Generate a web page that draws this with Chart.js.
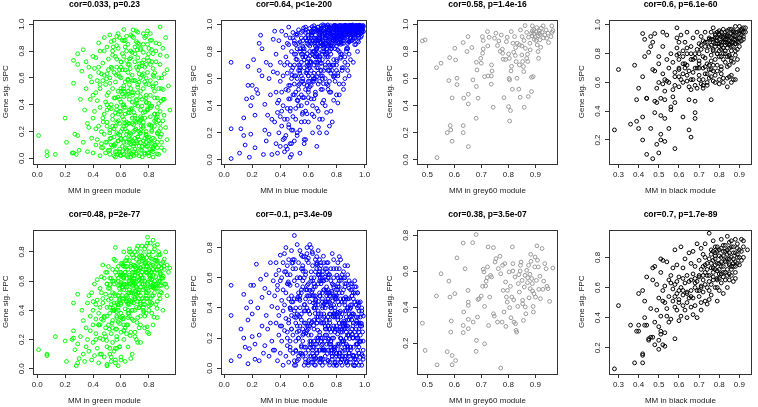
<!DOCTYPE html>
<html lang="en">
<head>
<meta charset="UTF-8">
<title>Module membership vs. gene significance</title>
<script src="https://cdn.jsdelivr.net/npm/chart.js"></script>
<style>
    body {
        margin: 0;
        width: 758px;
        height: 407px;
        overflow: hidden;
        background: #fff;
        position: relative;
    }
    canvas {
        position: absolute;
    }
</style>
</head>
<body>
<script>
    // ---- data ----

    // green module: membership (x) shared by both rows
    const greenMM = [
        .01,.07,.07,.13,.20,.21,.25,.26,.26,.26,.28,.29,.29,.27,.29,.30,
        .31,.32,.33,.33,.34,.35,.35,.36,.36,.37,.37,.38,.38,.39,.39,.40,.40,.40,.41,.41,.42,.42,.42,.43,.43,.43,.44,.44,.44,.45,.45,.45,.45,.46,.46,
        .47,.47,.48,.48,.48,.49,.49,.49,.50,.50,.50,.50,.51,.51,.51,.52,.52,.52,.52,.53,.53,.53,.54,.54,.54,.54,.55,.55,.55,.55,.56,.56,.56,.56,.57,.57,.57,.57,.58,.58,.58,.58,.59,.59,.59,.59,.60,.60,.60,.60,.47,.50,.53,.56,.59,
        .61,.61,.61,.62,.62,.62,.62,.63,.63,.63,.64,.64,.64,.64,.65,.65,.65,.66,.66,.66,.66,.67,.67,.67,.68,.68,.68,.68,.69,.69,.69,.70,.70,.70,.70,.71,.71,.71,.72,.72,.72,.72,.73,.73,.73,.74,.74,.74,.74,.75,.75,.75,.62,.65,.68,.71,.74,.63,.67,.70,
        .76,.76,.76,.77,.77,.77,.78,.78,.78,.78,.79,.79,.79,.80,.80,.80,.80,.81,.81,.81,.82,.82,.82,.83,.83,.83,.84,.84,.84,.85,.85,.85,.86,.86,.87,.87,.88,.88,.88,.89,.89,.90,.90,.91,.91,.92,.92,.93,.93,.94,.95,.79,.83,.86,.81,
        .52,.55,.58,.60,.63,.65,.67,.69,.71,.73,.75,.77,.79,.81,.83,.85,.87,.89,.54,.57,.61,.64,.66,.68,.70,.72,.74,.76,.78,.80,.82,.84,.66,.70,.74,.78,.62,.86,.88,.58,
        .45,.47,.49,.51,.53,.55,.57,.59,.61,.63,.65,.67,.69,.71,.73,.75,.77,.79,.81,.83,
        .46,.48,.50,.52,.54,.56,.58,.60,.62,.64,.66,.68,.70,.72,.74,.76,.78,.80,.82,.84,
        .55,.57,.59,.61,.63,.65,.67,.69,.71,.73,.75,.77,.79,.81,.83,.85,.87,.89,.91,.60,
        .56,.58,.60,.62,.64,.66,.68,.70,.72,.74,.76,.78,.80,.82,.84,.86,.88,.90,.50,.53,
        .57,.60,.63,.66,.69,.72,.75,.78,.81,.84,.87,.58,.61,.64,.67,.70,.73,.76,.79,.82,
        .40,.42,.44,.46,.48,.50,.52,.54,.56,.58,.60,.62,.64,.66,.68,.70,.72,.74,.76,.78,
        .60,.61,.62,.63,.64,.65,.66,.67,.68,.69,.70,.71,.72,.73,.74,.75,.76,.77,.78,.79,
        .80,.81,.82,.83,.84,.85,.86,.87,.88,.89,.59,.62,.65,.68,.71,.74,.77,.80,.83,.86,
        .553,.578,.603,.627,.648,.672,.693,.717,.738,.761,.783,.806,.829,.851,.874,.517,.536,.687,.713,.744,
        .567,.591,.614,.638,.661,.683,.706,.729,.752,.773,.797,.818,.841,.863,.887,.908,.621,.657,.733,.779,
        .473,.497,.521,.544,.569,.594,.618,.643,.666,.691,.714,.739,.763,.787,.812,.836,.858,.883,.903,.927
    ];
    const greenSPC = [
        .17,.05,.02,.03,.30,.12,.04,.04,.56,.73,.03,.17,.70,.18,.78,.06,
        .44,.65,.81,.12,.36,.72,.52,.26,.05,.68,.23,.61,.44,.15,.57,.30,.04,.76,.67,.35,.10,.75,.49,.58,.14,.43,.86,.24,.68,.02,.38,.80,.55,.20,.63,
        .08,.71,.33,.90,.18,.55,.04,.42,.63,.12,.27,.83,.06,.49,.74,.21,.60,.92,.03,.37,.68,.15,.52,.80,.09,.29,.45,.02,.64,.88,.24,.57,.11,.76,.39,.05,.91,.68,.18,.50,.33,.82,.07,.61,.26,.44,.15,.72,.02,.35,.58,.47,.87,.01,.66,
        .31,.78,.05,.96,.54,.12,.40,.66,.22,.88,.02,.47,.73,.18,.59,.34,.85,.08,.44,.70,.26,.92,.14,.52,.37,.79,.03,.62,.20,.49,.90,.11,.58,.83,.30,.68,.04,.41,.16,.75,.55,.94,.27,.63,.09,.36,.81,.50,.19,.71,.06,.44,.24,.48,.13,.87,.60,.38,.01,.28,
        .52,.13,.85,.30,.68,.04,.91,.42,.20,.60,.75,.09,.36,.55,.16,.82,.02,.47,.70,.25,.88,.11,.39,.62,.05,.78,.33,.50,.14,.72,.27,.86,.45,.08,.60,.20,.98,.35,.70,.12,.52,.28,.82,.44,.06,.90,.23,.66,.14,.54,.36,.95,.01,.31,.93,
        .06,.10,.03,.14,.08,.01,.11,.05,.13,.02,.09,.15,.04,.12,.07,.10,.03,.18,.24,.19,.22,.27,.17,.26,.21,.16,.29,.23,.18,.25,.20,.28,.34,.40,.31,.45,.50,.38,.26,.13,
        .52,.30,.12,.66,.40,.22,.84,.05,.48,.33,.70,.18,.58,.27,.85,.39,.10,.64,.31,.54,
        .08,.62,.36,.19,.77,.45,.28,.60,.03,.91,.14,.42,.07,.66,.21,.93,.47,.13,.72,.24,
        .16,.74,.35,.09,.57,.26,.80,.11,.44,.20,.62,.03,.37,.88,.15,.56,.41,.08,.63,.50,
        .34,.13,.68,.46,.25,.05,.58,.32,.86,.12,.24,.70,.41,.06,.33,.19,.77,.44,.24,.10,
        .27,.52,.15,.36,.02,.49,.30,.17,.58,.45,.28,.93,.88,.80,.75,.72,.68,.79,.85,.81,
        .47,.22,.64,.11,.80,.40,.56,.32,.05,.63,.20,.38,.12,.55,.30,.15,.39,.06,.34,.09,
        .42,.66,.29,.83,.07,.50,.19,.37,.91,.25,.78,.03,.53,.14,.46,.69,.27,.57,.12,.36,
        .04,.39,.21,.67,.10,.80,.33,.52,.16,.60,.90,.76,.64,.49,.95,.82,.90,.73,.08,.12,
        .093,.457,.717,.263,.583,.037,.341,.809,.187,.631,.413,.071,.529,.297,.853,.379,.671,.957,.117,.243,
        .621,.173,.397,.053,.741,.471,.219,.567,.011,.347,.779,.241,.637,.183,.427,.321,.877,.119,.707,.553,
        .271,.593,.147,.831,.363,.023,.519,.201,.669,.091,.431,.281,.733,.157,.377,.611,.033,.223,.513,.761
    ];
    const greenFPC = [
        .13,.10,.09,.22,.19,.05,.20,.21,.45,.26,.02,.17,.04,.13,.51,.07,
        .22,.40,.10,.33,.05,.28,.15,.45,.20,.50,.12,.36,.26,.52,.06,.40,.18,.30,.58,.09,.34,.44,.24,.61,.14,.47,.30,.04,.38,.55,.21,.10,.42,.34,.63,
        .45,.20,.62,.08,.35,.51,.28,.66,.15,.42,.58,.03,.30,.70,.47,.10,.55,.38,.62,.24,.05,.44,.68,.33,.52,.18,.75,.40,.12,.60,.27,.50,.83,.06,.36,.64,.45,.22,.57,.02,.70,.40,.15,.52,.31,.66,.08,.45,.59,.25,.71,.36,.48,.14,.55,
        .55,.34,.72,.48,.62,.20,.80,.41,.66,.05,.58,.30,.74,.50,.45,.68,.15,.60,.82,.36,.54,.70,.25,.46,.63,.78,.40,.10,.57,.71,.33,.64,.49,.80,.22,.59,.42,.75,.67,.35,.52,.84,.61,.28,.73,.44,.56,.69,.18,.62,.77,.48,.58,.40,.66,.51,.76,.64,.07,.53,
        .62,.70,.42,.78,.55,.36,.66,.84,.48,.73,.59,.90,.52,.67,.80,.40,.64,.71,.56,.86,.45,.61,.75,.50,.68,.30,.82,.58,.66,.44,.74,.63,.85,.55,.70,.60,.48,.78,.65,.57,.72,.62,.40,.75,.68,.58,.80,.50,.71,.66,.69,.25,.88,.35,.46,
        .50,.45,.60,.58,.66,.52,.70,.62,.56,.68,.74,.60,.70,.64,.58,.76,.62,.69,.40,.35,.48,.56,.44,.60,.66,.52,.64,.58,.50,.72,.61,.55,.47,.70,.80,.66,.63,.73,.57,.42,
        .30,.48,.22,.55,.62,.40,.68,.15,.56,.74,.35,.60,.45,.78,.52,.66,.82,.48,.62,.71,
        .10,.36,.58,.42,.28,.66,.50,.72,.30,.46,.80,.57,.25,.63,.69,.44,.55,.78,.38,.60,
        .58,.20,.47,.64,.70,.38,.52,.76,.66,.42,.58,.72,.86,.48,.68,.55,.80,.62,.58,.06,
        .74,.62,.35,.54,.48,.64,.40,.70,.60,.50,.76,.66,.43,.56,.84,.68,.60,.73,.02,.08,
        .14,.66,.56,.74,.60,.46,.84,.38,.64,.52,.70,.44,.36,.62,.58,.48,.54,.75,.66,.57,
        .46,.20,.30,.52,.24,.66,.14,.60,.04,.32,.44,.70,.24,.52,.34,.58,.18,.64,.40,.52,
        .38,.50,.62,.28,.70,.44,.58,.80,.52,.66,.40,.56,.72,.48,.36,.62,.54,.44,.70,.58,
        .68,.76,.50,.64,.70,.58,.46,.78,.66,.52,.48,.26,.30,.46,.20,.30,.28,.24,.80,.74,
        .513,.437,.633,.577,.489,.713,.617,.547,.691,.463,.759,.613,.557,.677,.503,.271,.313,.587,.821,.641,
        .391,.573,.707,.461,.627,.533,.687,.417,.601,.727,.531,.661,.743,.583,.649,.701,.263,.381,.767,.679,
        .331,.193,.577,.413,.271,.643,.343,.761,.227,.493,.317,.453,.389,.287,.437,.353,.413,.527,.633,.557
    ];

    // blue module: membership (x) shared by both rows
    const blueMM = [
        .05,.05,.05,.11,.12,.14,.14,.15,.16,.17,.17,.18,.19,.19,.20,.20,.21,.22,.22,.23,.24,.25,.25,.26,.27,.27,.28,.29,.29,.30,.30,.31,.32,.32,.33,.33,.34,.34,.35,.35,
        .36,.36,.37,.37,.37,.38,.38,.38,.39,.39,.39,.40,.40,.40,.40,.41,.41,.41,.42,.42,.42,.42,.43,.43,.43,.44,.44,.44,.44,.45,.45,.45,.45,.46,.46,.46,.46,.47,.47,.47,.47,.48,.48,.48,.48,.49,.49,.49,.49,.50,.50,.50,.50,.38,.41,.44,.47,.50,.43,.46,
        .51,.51,.51,.52,.52,.52,.53,.53,.53,.54,.54,.54,.55,.55,.55,.56,.56,.56,.57,.57,.57,.58,.58,.58,.59,.59,.59,.60,.60,.60,.61,.61,.61,.62,.62,.62,.63,.63,.63,.64,.64,.64,.65,.65,.65,.66,.66,.66,.67,.67,.67,.68,.68,.68,.69,.69,.69,.70,.70,.70,.52,.55,.58,.61,.64,.67,.70,.53,.56,.59,.62,.65,.68,.54,.57,.60,.63,.66,.69,.60,
        .71,.71,.72,.72,.73,.73,.74,.74,.75,.75,.76,.76,.77,.77,.78,.78,.79,.79,.80,.80,
        .81,.81,.82,.82,.83,.83,.84,.84,.85,.85,.86,.86,.87,.87,.88,.88,.89,.89,.90,.90,
        .91,.91,.92,.92,.93,.93,.94,.94,.95,.95,.96,.96,.97,.97,.98,.98,.93,.95,.97,.99,
        .70,.72,.73,.74,.75,.76,.77,.78,.79,.80,.81,.82,.83,.84,.85,.86,.87,.88,.89,.90,
        .74,.76,.78,.80,.82,.84,.86,.88,.90,.92,.94,.96,.75,.79,.83,.87,.91,.95,.81,.85,
        .70,.73,.77,.80,.83,.86,.89,.92,.95,.98,.71,.74,.78,.81,.84,.87,.90,.93,.96,.99,
        .50,.52,.54,.56,.58,.60,.62,.64,.66,.68,.70,.72,.74,.76,.78,.51,.53,.55,.57,.59,.61,.63,.65,.67,.69,.71,.73,.75,.77,.79,.55,.60,.65,.70,.75,.58,.63,.68,.73,.78,
        .60,.62,.64,.66,.68,.70,.72,.74,.76,.78,.80,.82,.84,.86,.88,.90,.92,.94,.96,.98,
        .61,.63,.65,.67,.69,.71,.73,.75,.77,.79,.81,.83,.85,.87,.89,.91,.93,.95,.97,.99,
        .65,.67,.69,.71,.73,.75,.77,.79,.81,.83,.85,.87,.89,.91,.93,.95,.97,.66,.70,.74,
        .78,.80,.82,.84,.86,.88,.90,.92,.94,.96,.76,.79,.82,.85,.88,.91,.94,.97,.83,.87,
        .55,.57,.59,.61,.63,.65,.67,.69,.71,.73,.75,.77,.79,.81,.83,.85,.56,.60,.64,.68,
        .45,.47,.49,.51,.53,.55,.57,.59,.61,.63,.65,.67,.69,.71,.73,.75,.48,.52,.58,.64,
        .45,.46,.47,.48,.49,.50,.51,.52,.53,.54,.55,.56,.57,.58,.59,.60,.62,.64,.66,.68,
        .70,.72,.74,.76,.78,.80,.82,.84,.86,.88,.90,.92,.94,.96,.71,.75,.79,.83,.87,.91,
        .52,.54,.56,.58,.60,.62,.64,.66,.68,.70,.72,.74,.76,.78,.80,.82,.84,.86,.88,.90,
        .90,.91,.92,.93,.94,.95,.96,.97,.98,.99,.84,.85,.86,.87,.88,.89,.80,.81,.82,.83,
        .70,.72,.74,.76,.78,.80,.82,.84,.86,.88,.73,.77,.81,.85,.89,.92,.95,.68,.66,.64,
        .50,.54,.58,.62,.66,.70,.74,.78,.82,.86,.90,.94,.56,.60,.64,.68,.72,.76,.80,.84,
        .613,.637,.652,.688,.701,.726,.748,.763,.789,.804,.827,.843,.866,.881,.907,.923,.946,.961,.978,.593,
        .624,.643,.667,.679,.713,.734,.757,.771,.796,.813,.834,.852,.873,.894,.912,.934,.953,.969,.986,.607,
        .583,.617,.648,.671,.693,.717,.741,.767,.782,.809,.831,.857,.877,.889,.917,.938,.957,.973,.991,.661,
        .457,.483,.512,.537,.563,.589,.611,.636,.659,.684,.707,.733,.758,.779,.803,.473,.526,.574,.627,.672,
        .703,.719,.738,.753,.772,.787,.808,.823,.838,.861,.878,.897,.915,.929,.944,.963,.981,.667,.687,.652,
        .511,.541,.566,.597,.627,.653,.682,.706,.729,.751,.776,.801,.826,.849,.871,.893,.917,.941,.533,.557
    ];
    const blueSPC = [
        .72,.23,.01,.05,.23,.18,.31,.11,.45,.69,.55,.02,.19,.40,.55,.46,.74,.33,.09,.52,.49,.66,.86,.92,.82,.62,.04,.22,.41,.72,.14,.33,.60,.19,.48,.70,.04,.30,.89,.65,
        .95,.28,.50,.12,.78,.64,.35,.05,.20,.88,.44,.58,.10,.72,.32,.95,.25,.50,.62,.15,.83,.40,.70,.06,.30,.92,.52,.18,.76,.38,.64,.08,.86,.26,.55,.98,.45,.12,.70,.36,.90,.60,.22,.80,.04,.48,.94,.32,.68,.14,.78,.56,.88,.42,.36,.10,.02,.62,.16,.24,
        .62,.85,.30,.74,.18,.93,.55,.96,.40,.80,.66,.22,.90,.48,.72,.60,.95,.35,.82,.12,.68,.76,.52,.98,.88,.42,.64,.92,.70,.28,.84,.58,.97,.66,.90,.45,.78,.94,.20,.86,.60,.99,.72,.50,.92,.82,.96,.38,.68,.88,.56,.94,.74,.30,.86,.62,.97,.78,.52,.92,.44,.58,.36,.72,.80,.64,.85,.70,.78,.86,.55,.88,.90,.05,.15,.46,.88,.76,.66,.62,
        .95,.82,.90,.68,.98,.76,.88,.55,.93,.80,.97,.64,.86,.92,.99,.74,.90,.96,.84,.98,
        .91,.97,.86,.99,.94,.78,.96,.90,.99,.88,.93,.97,.82,.98,.95,.91,.99,.87,.96,.93,
        .97,.92,.99,.95,.98,.90,.96,.99,.94,.98,.97,.92,.99,.96,.98,.95,.85,.88,.93,.98,
        .42,.60,.35,.72,.25,.50,.66,.44,.58,.70,.62,.48,.75,.68,.56,.72,.80,.66,.78,.74,
        .96,.91,.94,.88,.96,.93,.98,.95,.99,.97,.95,.99,.87,.99,.97,.94,.95,.97,.92,.96,
        .88,.94,.97,.93,.89,.99,.92,.94,.99,.97,.99,.84,.90,.86,.98,.96,.90,.96,.95,.99,
        .70,.82,.64,.88,.76,.58,.92,.80,.68,.84,.74,.86,.66,.78,.70,.50,.66,.78,.56,.72,.88,.62,.84,.76,.66,.80,.90,.70,.84,.62,.40,.52,.48,.60,.66,.94,.58,.90,.82,.88,
        .90,.86,.97,.83,.93,.88,.99,.91,.85,.97,.92,.89,.95,.99,.93,.97,.90,.96,.99,.94,
        .80,.94,.76,.98,.87,.93,.82,.96,.90,.86,.98,.94,.90,.96,.92,.99,.95,.92,.97,.99,
        .95,.90,.99,.85,.92,.98,.94,.99,.90,.97,.86,.99,.97,.94,.99,.96,.98,.72,.80,.94,
        .98,.96,.99,.91,.97,.86,.99,.93,.97,.90,.93,.89,.95,.97,.99,.88,.99,.95,.99,.92,
        .62,.74,.55,.68,.80,.60,.72,.84,.66,.78,.58,.70,.82,.64,.76,.68,.84,.50,.64,.58,
        .30,.45,.22,.38,.52,.28,.46,.34,.54,.40,.48,.36,.52,.44,.56,.50,.12,.20,.15,.32,
        .72,.85,.55,.66,.90,.48,.78,.60,.86,.70,.94,.58,.80,.90,.66,.75,.95,.70,.86,.92,
        .92,.86,.95,.99,.90,.96,.87,.93,.98,.95,.90,.97,.93,.99,.97,.88,.94,.90,.96,.93,
        .92,.82,.76,.96,.85,.72,.90,.78,.96,.62,.78,.99,.82,.88,.74,.80,.86,.76,.82,.88,
        .94,.99,.96,.92,.99,.97,.94,.99,.97,.95,.99,.96,.92,.99,.97,.95,.99,.94,.97,.92,
        .30,.40,.52,.36,.62,.48,.56,.66,.60,.70,.20,.28,.42,.52,.62,.72,.80,.20,.10,.45,
        .86,.68,.90,.94,.82,.96,.88,.98,.92,.97,.99,.98,.46,.62,.58,.76,.70,.84,.66,.78,
        .873,.947,.812,.968,.905,.851,.983,.926,.874,.958,.991,.902,.944,.879,.972,.935,.989,.957,.917,.783,
        .921,.768,.954,.887,.938,.976,.842,.963,.985,.917,.869,.977,.953,.993,.918,.962,.939,.981,.967,.694,
        .643,.726,.864,.791,.713,.834,.759,.823,.917,.811,.853,.897,.828,.873,.889,.853,.871,.905,.946,.613,
        .513,.627,.743,.561,.829,.697,.767,.597,.881,.713,.563,.793,.689,.613,.727,.381,.437,.283,.337,.241,
        .997,.934,.996,.971,.943,.993,.964,.981,.936,.994,.968,.982,.996,.973,.958,.994,.988,.979,.941,.967,
        .927,.871,.973,.943,.983,.897,.951,.872,.913,.953,.886,.931,.962,.941,.987,.953,.967,.973,.461,.337
    ];
    const blueFPC = [
        .55,.35,.05,.08,.26,.20,.49,.14,.40,.03,.32,.13,.55,.44,.36,.21,.55,.06,.16,.69,.40,.22,.05,.59,.28,.47,.10,.53,.15,.35,.62,.26,.08,.50,.30,.70,.18,.41,.58,.12,
        .48,.12,.62,.30,.70,.05,.40,.55,.22,.65,.35,.10,.58,.28,.75,.45,.18,.60,.02,.38,.52,.70,.25,.42,.64,.08,.50,.33,.80,.20,.56,.68,.15,.46,.72,.04,.30,.62,.40,.14,.55,.26,.78,.48,.35,.10,.66,.44,.22,.58,.05,.72,.38,.52,.28,.64,.18,.46,.76,.32,
        .40,.12,.66,.28,.55,.05,.70,.35,.20,.60,.45,.78,.15,.50,.32,.68,.22,.58,.02,.42,.74,.30,.62,.10,.48,.80,.25,.56,.38,.70,.18,.82,.44,.08,.64,.30,.52,.76,.14,.40,.60,.26,.72,.48,.06,.34,.66,.20,.56,.42,.78,.12,.50,.64,.30,.70,.36,.16,.58,.46,.24,.75,.52,.36,.18,.62,.44,.08,.54,.28,.80,.40,.66,.34,.60,.22,.48,.10,.56,.73,
        .30,.58,.12,.44,.70,.22,.50,.05,.36,.62,.18,.40,.76,.08,.28,.54,.14,.46,.66,.02,
        .34,.60,.16,.42,.72,.24,.06,.50,.30,.64,.12,.38,.56,.20,.46,.68,.10,.32,.52,.04,
        .26,.48,.14,.36,.58,.06,.42,.22,.30,.50,.10,.38,.18,.44,.02,.28,.54,.16,.34,.12,
        .64,.26,.48,.70,.32,.58,.20,.66,.38,.10,.52,.74,.04,.30,.46,.60,.24,.40,.08,.56,
        .44,.12,.60,.36,.08,.62,.28,.14,.40,.20,.06,.24,.16,.48,.34,.04,.42,.12,.70,.18,
        .02,.16,.10,.26,.46,.08,.36,.50,.20,.38,.52,.34,.42,.06,.18,.28,.14,.02,.26,.08,
        .88,.36,.60,.26,.04,.48,.18,.56,.30,.06,.40,.22,.62,.10,.48,.30,.06,.52,.24,.40,.16,.68,.02,.34,.58,.12,.44,.26,.06,.36,.10,.28,.54,.20,.50,.38,.12,.24,.32,.20,
        .05,.22,.40,.12,.58,.30,.08,.46,.18,.36,.02,.50,.26,.14,.40,.06,.30,.20,.10,.36,
        .48,.10,.64,.32,.20,.70,.42,.04,.56,.24,.44,.12,.60,.34,.22,.48,.06,.40,.28,.18,
        .16,.38,.06,.52,.26,.62,.12,.34,.54,.04,.28,.46,.10,.36,.24,.44,.30,.70,.62,.28,
        .14,.48,.30,.08,.56,.22,.42,.02,.34,.14,.66,.26,.10,.46,.32,.56,.16,.04,.60,.38,
        .36,.14,.52,.28,.04,.44,.62,.18,.34,.50,.26,.08,.40,.56,.20,.30,.66,.12,.48,.72,
        .62,.40,.72,.18,.50,.66,.30,.76,.08,.58,.42,.20,.68,.36,.54,.44,.26,.82,.46,.14,
        .24,.56,.12,.44,.70,.34,.02,.60,.20,.48,.14,.74,.38,.06,.52,.26,.60,.32,.10,.22,
        .50,.66,.20,.40,.72,.10,.58,.36,.68,.02,.24,.46,.54,.30,.12,.48,.04,.26,.16,.52,
        .46,.28,.08,.64,.38,.16,.54,.74,.04,.60,.28,.52,.14,.34,.46,.66,.18,.54,.28,.40,
        .14,.32,.08,.44,.26,.50,.02,.22,.40,.06,.24,.52,.42,.08,.62,.46,.28,.16,.54,.20,
        .12,.40,.60,.24,.36,.52,.08,.44,.30,.12,.66,.50,.32,.18,.58,.36,.20,.48,.30,.06,
        .02,.10,.14,.04,.16,.06,.12,.02,.10,.06,.12,.08,.18,.02,.08,.12,.04,.16,.08,.02,
        .137,.283,.451,.067,.329,.517,.193,.413,.031,.257,.379,.113,.473,.219,.347,.083,.161,.433,.297,.551,
        .507,.023,.183,.621,.427,.097,.359,.263,.471,.147,.583,.313,.047,.391,.227,.499,.339,.073,.241,.317,
        .233,.577,.363,.443,.153,.603,.283,.511,.129,.371,.197,.439,.263,.531,.087,.297,.413,.179,.347,.691,
        .573,.697,.337,.461,.643,.717,.517,.433,.687,.597,.743,.637,.477,.553,.617,.389,.473,.423,.771,.361,
        .413,.179,.053,.301,.447,.121,.227,.367,.057,.263,.149,.341,.201,.017,.313,.173,.091,.253,.039,.457,
        .113,.401,.227,.037,.309,.067,.479,.131,.587,.021,.343,.097,.273,.159,.037,.197,.281,.037,.247,.093
    ];

    // grey60 module: [membership, gene significance]
    const grey60Spc = [
        [.482,.877],[.492,.885],[.536,.017],[.534,.68],[.551,.713],[.583,.754],[.58,.585],[.592,.457],[.585,.253],[.587,.221],
        [.574,.201],[.592,.138],[.602,.823],[.61,.602],[.61,.555],[.605,.737],[.633,.865],[.635,.455],[.633,.253],[.633,.201],
        [.651,.909],[.647,.799],[.652,.413],[.652,.484],[.652,.098],[.665,.828],[.669,.59],[.682,.72],[.684,.663],[.682,.541],
        [.688,.455],[.681,.307],[.704,.909],[.707,.818],[.698,.749],[.7,.713],[.705,.786],[.712,.614],[.707,.88],[.723,.946],
        [.729,.904],[.724,.84],[.725,.619],[.737,.619],[.74,.656],[.738,.7],[.737,.558],[.744,.388],[.749,.897],[.754,.934],
        [.76,.843],[.765,.877],[.774,.921],[.778,.816],[.779,.786],[.781,.742],[.784,.459],[.796,.904],[.793,.872],[.801,.781],
        [.804,.749],[.801,.393],[.808,.364],[.805,.287],[.81,.656],[.811,.946],[.817,.86],[.82,.794],[.823,.909],[.827,.828],
        [.829,.725],[.832,.602],[.839,.521],[.841,.7],[.841,.848],[.845,.958],[.851,.909],[.85,.774],[.853,.725],[.856,.688],
        [.857,.651],[.859,.388],[.862,.99],[.863,.823],[.868,.749],[.871,.779],[.872,.725],[.874,.467],[.88,.86],[.881,.811],
        [.886,.504],[.889,.988],[.889,.951],[.889,.914],[.892,.614],[.896,.889],[.902,.946],[.907,.848],[.91,.799],[.912,.749],
        [.913,.934],[.917,.885],[.92,.83],[.922,.971],[.929,.988],[.935,.921],[.94,.958],[.942,.897],[.947,.934],[.949,.865],
        [.961,.988],[.965,.953],[.958,.909],[.962,.94],[.803,.6],[.805,.59],[.844,.462],[.815,.521],[.886,.609],[.895,.93],
        [.9,.905],[.905,.975],[.91,.915],[.915,.95],[.925,.94],[.93,.9],[.895,.96],[.918,.925],[.903,.88],[.886,.935],
        [.875,.905],[.868,.94],[.858,.88],[.85,.84],[.833,.86],[.826,.77],[.812,.69],[.79,.74],[.77,.8]
    ];
    const grey60Fpc = [
        [.482,.311],[.492,.159],[.536,.079],[.534,.462],[.551,.586],[.58,.545],[.584,.456],[.587,.261],[.589,.323],[.574,.152],
        [.592,.131],[.592,.079],[.605,.103],[.602,.475],[.61,.674],[.633,.757],[.635,.373],[.633,.298],[.633,.258],[.64,.614],
        [.651,.493],[.652,.41],[.652,.428],[.652,.332],[.652,.28],[.668,.759],[.67,.317],[.681,.804],[.682,.215],[.681,.154],
        [.688,.443],[.686,.345],[.692,.447],[.7,.462],[.705,.516],[.707,.611],[.71,.596],[.712,.196],[.712,.404],[.716,.518],
        [.718,.544],[.722,.564],[.723,.624],[.725,.735],[.727,.298],[.731,.456],[.734,.577],[.738,.568],[.745,.731],[.745,.363],
        [.748,.35],[.751,.651],[.754,.67],[.76,.317],[.763,.614],[.769,.683],[.772,.586],[.772,.061],[.777,.317],[.779,.633],
        [.781,.493],[.784,.373],[.787,.642],[.79,.54],[.791,.293],[.793,.456],[.796,.428],[.797,.493],[.803,.596],[.805,.397],
        [.808,.516],[.81,.341],[.813,.456],[.815,.735],[.817,.642],[.817,.601],[.82,.441],[.821,.317],[.825,.568],[.827,.308],
        [.829,.271],[.831,.261],[.835,.404],[.837,.531],[.839,.581],[.841,.484],[.844,.601],[.845,.633],[.847,.651],[.851,.549],
        [.853,.438],[.853,.419],[.856,.326],[.859,.512],[.862,.577],[.863,.401],[.865,.363],[.868,.605],[.871,.536],[.872,.564],
        [.875,.633],[.877,.452],[.88,.583],[.881,.503],[.883,.694],[.884,.655],[.887,.559],[.889,.531],[.89,.49],[.892,.404],
        [.893,.373],[.895,.475],[.898,.624],[.899,.679],[.901,.456],[.904,.549],[.906,.741],[.908,.661],[.911,.624],[.913,.499],
        [.917,.572],[.919,.447],[.925,.726],[.928,.499],[.931,.545],[.935,.642],[.94,.614],[.943,.516],[.947,.503],[.953,.432],
        [.965,.618]
    ];

    // black module: [membership, gene significance]
    const blackSpc = [
        [.28,.27],[.30,.69],[.36,.31],[.38,.72],[.39,.33],[.40,.28],[.39,.48],[.40,.56],[.42,.20],[.42,.36],
        [.42,.64],[.42,.94],[.43,.90],[.43,.78],[.44,.49],[.44,.10],[.44,.49],[.45,.81],[.46,.28],[.46,.85],
        [.46,.92],[.47,.69],[.47,.88],[.47,.07],[.48,.47],[.48,.39],[.48,.94],[.49,.56],[.49,.46],[.49,.17],
        [.50,.78],[.50,.73],[.50,.11],[.51,.37],[.51,.24],[.51,.49],[.51,.20],[.52,.59],[.52,.95],[.52,.85],
        [.53,.54],[.53,.35],[.53,.19],[.53,.48],[.54,.93],[.54,.76],[.54,.61],[.55,.28],[.55,.70],[.56,.43],
        [.56,.41],[.56,.80],[.57,.55],[.57,.50],[.58,.14],[.58,.64],[.58,.46],[.59,.91],[.59,.98],[.59,.84],
        [.60,.70],[.60,.57],[.60,.88],[.60,.76],[.61,.62],[.61,.93],[.62,.82],[.62,.66],[.62,.36],[.63,.88],
        [.63,.73],[.64,.95],[.64,.61],[.64,.80],[.65,.48],[.65,.27],[.65,.68],[.66,.22],[.66,.85],[.66,.55],
        [.67,.76],[.67,.91],[.67,.62],[.68,.39],[.68,.35],[.68,.80],[.68,.47],[.69,.70],[.69,.95],[.69,.56],
        [.70,.87],[.70,.65],[.70,.75],[.71,.59],[.71,.92],[.71,.83],[.72,.70],[.72,.56],[.72,.62],[.73,.95],
        [.73,.77],[.73,.88],[.74,.66],[.74,.82],[.74,.58],[.75,.91],[.75,.72],[.75,.85],[.75,.63],[.76,.79],
        [.76,.48],[.76,.90],[.76,.69],[.77,.98],[.77,.83],[.77,.61],[.78,.93],[.78,.76],[.78,.87],[.78,.65],
        [.79,.80],[.79,.95],[.79,.91],[.79,.72],[.80,.85],[.80,.59],[.80,.78],[.80,.94],[.81,.88],[.81,.69],
        [.81,.83],[.82,.97],[.82,.63],[.82,.92],[.82,.76],[.83,.86],[.83,.80],[.83,.95],[.83,.90],[.84,.71],
        [.84,.84],[.84,.63],[.84,.93],[.85,.78],[.85,.87],[.85,.97],[.86,.82],[.86,.65],[.86,.91],[.86,.75],
        [.87,.95],[.87,.85],[.87,.62],[.88,.79],[.88,.92],[.88,.99],[.88,.87],[.89,.69],[.89,.95],[.89,.83],
        [.89,.91],[.90,.99],[.90,.94],[.90,.88],[.91,.97],[.91,.93],[.92,.98],[.92,.95],[.92,.92],[.93,.95],
        [.76,.86],[.77,.88],[.78,.91],[.79,.87],[.80,.93],[.80,.90],[.81,.86],[.81,.92],[.82,.88],[.82,.84],
        [.83,.90],[.83,.93],[.84,.87],[.84,.90],[.85,.86],[.85,.92],[.86,.88],[.86,.85],[.87,.90],[.87,.93],
        [.88,.87],[.88,.90],[.74,.88],[.75,.90],[.73,.85],[.72,.89],[.77,.82],[.79,.80],[.81,.78],[.83,.82],
        [.85,.79],[.70,.80],[.71,.86],[.69,.83],[.76,.95],[.80,.96],[.84,.96],[.87,.96],[.90,.91],[.91,.96],
        [.58,.67],[.60,.69],[.62,.60],[.64,.65],[.66,.62],[.68,.58],[.70,.62],[.72,.58],[.74,.60],[.76,.64],
        [.78,.60],[.80,.62],[.82,.60],[.84,.57],[.86,.60],[.88,.62],[.68,.70],[.70,.73],[.64,.72],[.66,.76],
        [.62,.78],[.60,.80],[.63,.70],[.65,.57],[.55,.60],[.53,.62],[.50,.60],[.52,.66],[.48,.68],[.57,.74],
        [.59,.79],[.67,.67],[.73,.71],[.75,.69],[.77,.72],[.79,.68],[.81,.71],[.83,.74],[.85,.72],[.87,.74],
        [.78,.94],[.79,.89],[.80,.87],[.81,.95],[.82,.91],[.83,.88],[.84,.92],[.85,.89],[.86,.94],[.87,.88],
        [.88,.95],[.89,.88],[.77,.90],[.78,.85],[.80,.82],[.82,.80],[.84,.78],[.86,.77],[.88,.82],[.90,.85],
        [.72,.78],[.74,.73],[.76,.75],[.70,.70],[.68,.77],[.66,.80],[.64,.84],[.62,.73],[.60,.64],[.58,.58],
        [.73,.66],[.77,.68],[.81,.66],[.85,.64],[.89,.76],[.91,.89],[.92,.90],[.93,.98],[.90,.96],[.86,.97]
    ];
    const blackFpc = [
        [.28,.06],[.30,.48],[.36,.35],[.38,.10],[.39,.31],[.40,.35],[.40,.31],[.40,.56],[.42,.58],[.42,.16],
        [.42,.15],[.42,.10],[.43,.51],[.43,.35],[.43,.40],[.44,.67],[.44,.35],[.45,.25],[.45,.26],[.46,.27],
        [.46,.46],[.47,.65],[.47,.73],[.47,.27],[.48,.37],[.48,.22],[.48,.74],[.49,.45],[.49,.62],[.50,.19],
        [.50,.25],[.50,.53],[.50,.34],[.51,.31],[.51,.41],[.51,.29],[.51,.70],[.51,.79],[.52,.22],[.52,.51],
        [.52,.78],[.52,.58],[.53,.30],[.53,.50],[.53,.21],[.53,.61],[.54,.46],[.54,.41],[.54,.77],[.55,.65],
        [.55,.54],[.55,.37],[.56,.63],[.56,.68],[.56,.39],[.57,.51],[.57,.59],[.57,.73],[.58,.47],[.58,.26],
        [.58,.85],[.59,.64],[.59,.45],[.59,.56],[.59,.75],[.60,.38],[.60,.50],[.60,.67],[.61,.60],[.61,.41],
        [.61,.87],[.62,.55],[.62,.73],[.62,.48],[.63,.63],[.63,.79],[.63,.45],[.64,.57],[.64,.68],[.64,.40],
        [.65,.83],[.65,.53],[.65,.64],[.66,.47],[.66,.76],[.66,.58],[.67,.42],[.67,.69],[.67,.53],[.67,.84],
        [.68,.63],[.68,.48],[.68,.74],[.69,.58],[.69,.89],[.69,.40],[.70,.67],[.70,.78],[.70,.54],[.71,.61],
        [.71,.86],[.71,.45],[.71,.72],[.72,.57],[.72,.82],[.72,.65],[.73,.51],[.73,.75],[.73,.89],[.74,.60],
        [.74,.68],[.74,.49],[.75,.79],[.75,.96],[.75,.64],[.76,.73],[.76,.85],[.76,.55],[.77,.67],[.77,.78],
        [.77,.91],[.78,.60],[.78,.72],[.78,.83],[.79,.51],[.79,.65],[.79,.76],[.79,.87],[.80,.58],[.80,.69],
        [.80,.81],[.81,.92],[.81,.63],[.81,.74],[.82,.84],[.82,.56],[.82,.67],[.83,.78],[.83,.88],[.83,.70],
        [.84,.82],[.84,.94],[.84,.60],[.85,.75],[.85,.86],[.85,.65],[.85,.79],[.86,.91],[.86,.68],[.87,.83],
        [.87,.74],[.87,.87],[.87,.64],[.88,.77],[.88,.92],[.88,.70],[.89,.82],[.89,.89],[.90,.75],[.90,.85],
        [.91,.92],[.91,.78],[.92,.91],[.92,.87],[.94,.85],
        [.76,.76],[.77,.73],[.78,.79],[.79,.71],[.80,.76],[.81,.80],[.82,.74],[.83,.77],[.84,.72],[.85,.76],
        [.86,.80],[.87,.76],[.88,.74],[.89,.80],[.80,.85],[.82,.88],[.84,.85],[.86,.87],[.78,.87],[.76,.82],
        [.74,.76],[.72,.74],[.73,.70],[.75,.68],[.77,.65],[.79,.66],[.81,.69],[.83,.65],[.85,.69],[.70,.68],
        [.69,.64],[.71,.60],[.73,.62],[.75,.58],[.68,.60],[.66,.65],[.64,.56],[.62,.58],[.60,.52],[.58,.54],
        [.78,.81],[.79,.84],[.80,.72],[.81,.77],[.82,.81],[.83,.84],[.84,.79],[.85,.83],[.86,.74],[.87,.79],
        [.88,.83],[.89,.76],[.77,.70],[.78,.75],[.80,.66],[.82,.70],[.84,.68],[.86,.72],[.88,.66],[.90,.80],
        [.72,.68],[.74,.72],[.76,.62],[.70,.58],[.68,.66],[.66,.54],[.64,.50],[.62,.66],[.60,.58],[.58,.62],
        [.73,.80],[.77,.84],[.81,.86],[.85,.90],[.89,.86],[.91,.84],[.92,.80],[.79,.60],[.75,.52],[.71,.50]
    ];

    // axis ranges and tick labels
    const greenRangeX = [-0.03, 0.994];
    const blueRangeX = [-0.022, 1.017];
    const grey60RangeX = [0.462, 0.984];
    const blackRangeX = [0.253, 0.9625];

    const greenTicksX = [0, 0.2, 0.4, 0.6, 0.8];
    const blueTicksX = [0, 0.2, 0.4, 0.6, 0.8, 1.0];
    const grey60TicksX = [0.5, 0.6, 0.7, 0.8, 0.9];
    const blackTicksX = [0.3, 0.4, 0.5, 0.6, 0.7, 0.8, 0.9];
    const ticksY0to1 = [0, 0.2, 0.4, 0.6, 0.8, 1.0];
    const ticksY2to1 = [0.2, 0.4, 0.6, 0.8, 1.0];
    const ticksY0to8 = [0, 0.2, 0.4, 0.6, 0.8];
    const ticksY2to8 = [0.2, 0.4, 0.6, 0.8];

    const titles = [
        'cor=0.033, p=0.23', 'cor=0.64, p<1e-200', 'cor=0.58, p=1.4e-16', 'cor=0.6, p=6.1e-60',
        'cor=0.48, p=2e-77', 'cor=-0.1, p=3.4e-09', 'cor=0.38, p=3.5e-07', 'cor=0.7, p=1.7e-89'
    ];

    // ---- layout ----
    const FONT = '"Liberation Sans", Arial, sans-serif';
    const ROW_H = 210;
    const Y_AXIS_W = 33;
    const X_AXIS_H = 46;

    function zip(xs, ys) {
        return xs.map((x, i) => ({ x: x, y: ys[i] }));
    }
    function fromPairs(pairs) {
        return pairs.map(p => ({ x: p[0], y: p[1] }));
    }

    const panels = [
        { left: 0,   top: 0, width: 181, points: zip(greenMM, greenSPC), color: '#00ff00', rx: greenRangeX, ry: [-0.042, 1.035], tx: greenTicksX, ty: ticksY0to1, title: titles[0], xTitle: 'MM in green module', yTitle: 'Gene sig. SPC' },
        { left: 188, top: 0, width: 184, points: zip(blueMM, blueSPC), color: '#0000ff', rx: blueRangeX, ry: [-0.03, 1.036], tx: blueTicksX, ty: ticksY0to1, title: titles[1], xTitle: 'MM in blue module', yTitle: 'Gene sig. SPC' },
        { left: 384, top: 0, width: 179, points: fromPairs(grey60Spc), color: '#999999', rx: grey60RangeX, ry: [-0.03, 1.035], tx: grey60TicksX, ty: ticksY0to1, title: titles[2], xTitle: 'MM in grey60 module', yTitle: 'Gene sig. SPC' },
        { left: 576, top: 0, width: 181, points: fromPairs(blackSpc), color: '#000000', rx: blackRangeX, ry: [0.033, 1.038], tx: blackTicksX, ty: ticksY2to1, title: titles[3], xTitle: 'MM in black module', yTitle: 'Gene sig. SPC' },
        { left: 0,   top: ROW_H, width: 181, points: zip(greenMM, greenFPC), color: '#00ff00', rx: greenRangeX, ry: [-0.036, 0.953], tx: greenTicksX, ty: ticksY0to8, title: titles[4], xTitle: 'MM in green module', yTitle: 'Gene sig. FPC' },
        { left: 188, top: ROW_H, width: 184, points: zip(blueMM, blueFPC), color: '#0000ff', rx: blueRangeX, ry: [-0.038, 0.92], tx: blueTicksX, ty: ticksY0to8, title: titles[5], xTitle: 'MM in blue module', yTitle: 'Gene sig. FPC' },
        { left: 384, top: ROW_H, width: 179, points: fromPairs(grey60Fpc), color: '#999999', rx: grey60RangeX, ry: [0.028, 0.832], tx: grey60TicksX, ty: ticksY2to8, title: titles[6], xTitle: 'MM in grey60 module', yTitle: 'Gene sig. FPC' },
        { left: 576, top: ROW_H, width: 181, points: fromPairs(blackFpc), color: '#000000', rx: blackRangeX, ry: [0.026, 0.985], tx: blackTicksX, ty: ticksY2to8, title: titles[7], xTitle: 'MM in black module', yTitle: 'Gene sig. FPC' }
    ];

    // draw the frame round the plot region, like R's box()
    const boxPlugin = {
        id: 'plotBox',
        afterDraw(chart) {
            const a = chart.chartArea;
            const ctx = chart.ctx;
            ctx.save();
            ctx.strokeStyle = '#333';
            ctx.lineWidth = 1;
            ctx.strokeRect(Math.round(a.left) + 0.5, Math.round(a.top) + 0.5,
                Math.round(a.right - a.left) - 1, Math.round(a.bottom - a.top) - 1);
            ctx.restore();
        }
    };

    panels.forEach(p => {
        const canvas = document.createElement('canvas');
        canvas.width = p.width;
        canvas.height = ROW_H;
        canvas.style.left = p.left + 'px';
        canvas.style.top = p.top + 'px';
        document.body.appendChild(canvas);

        new Chart(canvas, {
            type: 'scatter',
            data: {
                datasets: [{
                    data: p.points,
                    borderColor: p.color,
                    backgroundColor: 'rgba(0,0,0,0)',
                    borderWidth: 1,
                    pointRadius: 1.9,
                    pointStyle: 'circle'
                }]
            },
            options: {
                responsive: false,
                animation: false,
                events: [],
                layout: { padding: 0 },
                plugins: {
                    legend: { display: false },
                    tooltip: { enabled: false },
                    title: {
                        display: true,
                        text: p.title,
                        fullSize: false,
                        color: '#000',
                        font: { family: FONT, size: 8.5, weight: 'bold', lineHeight: 1 },
                        padding: { top: 0.75, bottom: 10.25 }
                    }
                },
                scales: {
                    x: {
                        type: 'linear',
                        min: p.rx[0],
                        max: p.rx[1],
                        afterBuildTicks: s => { s.ticks = p.tx.map(v => ({ value: v })); },
                        afterFit: s => { s.height = X_AXIS_H; },
                        border: { display: false },
                        grid: { drawOnChartArea: false, drawTicks: true, tickLength: 4, color: '#333' },
                        ticks: {
                            autoSkip: false,
                            maxRotation: 0,
                            padding: 1.8,
                            color: '#222',
                            font: { family: FONT, size: 8 },
                            callback: v => v.toFixed(1)
                        },
                        title: {
                            display: true,
                            text: p.xTitle,
                            color: '#222',
                            font: { family: FONT, size: 8 },
                            padding: { top: 0, bottom: 14 }
                        }
                    },
                    y: {
                        type: 'linear',
                        min: p.ry[0],
                        max: p.ry[1],
                        afterBuildTicks: s => { s.ticks = p.ty.map(v => ({ value: v })); },
                        afterFit: s => { s.width = Y_AXIS_W; },
                        border: { display: false },
                        grid: { drawOnChartArea: false, drawTicks: true, tickLength: 4, color: '#333' },
                        ticks: {
                            minRotation: 90,
                            maxRotation: 90,
                            crossAlign: 'center',
                            padding: 1.75,
                            color: '#222',
                            font: { family: FONT, size: 8 },
                            callback: v => v.toFixed(1)
                        },
                        title: {
                            display: true,
                            text: p.yTitle,
                            color: '#222',
                            font: { family: FONT, size: 8 },
                            padding: { top: 1.2, bottom: 0 }
                        }
                    }
                }
            },
            plugins: [boxPlugin]
        });
    });
</script>
</body>
</html>
